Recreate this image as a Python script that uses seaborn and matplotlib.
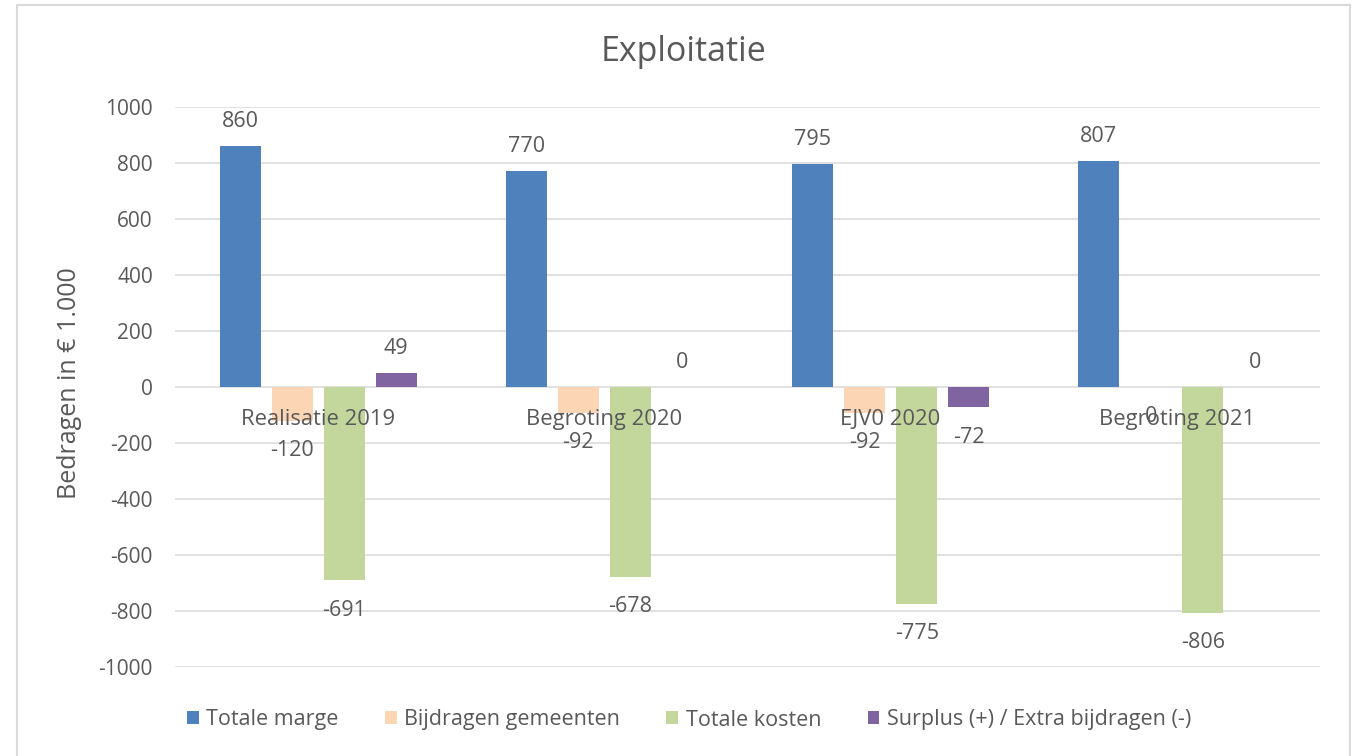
import numpy as np
import pandas as pd
import matplotlib
matplotlib.use("Agg")
import matplotlib.pyplot as plt
from matplotlib.patches import Rectangle
import seaborn as sns

categories = ["Realisatie 2019", "Begroting 2020", "EJV0 2020", "Begroting 2021"]
series_names = ["Totale marge", "Bijdragen gemeenten", "Totale kosten", "Surplus (+) / Extra bijdragen (-)"]
totale_marge = [860, 770, 795, 807]
bijdragen_gemeenten = [-120, -92, -92, -0.0]
totale_kosten = [-691, -678, -775, -806]
surplus = [49, 0, -72, 0]
colors = ["#4F81BD", "#FCD5B5", "#C3D69B", "#8064A2"]

all_series = [totale_marge, bijdragen_gemeenten, totale_kosten, surplus]

rows = []
for s, vals in zip(series_names, all_series):
    for c, v in zip(categories, vals):
        rows.append({"cat": c, "series": s, "val": v})
df = pd.DataFrame(rows)

sns.set_theme(style="white")
FONT = ["Open Sans", "DejaVu Sans"]
plt.rcParams["font.family"] = FONT
plt.rcParams["axes.unicode_minus"] = False
TXT = "#595959"
GRID = "#D9D9D9"

W, H = 1358, 756
fig = plt.figure(figsize=(W / 100, H / 100), dpi=100)
fig.patch.set_facecolor("white")
ax = fig.add_axes([175 / W, 1 - 667 / H, (1320 - 175) / W, (667 - 107) / H])

sns.barplot(data=df, x="cat", y="val", hue="series", order=categories,
            hue_order=series_names, palette=colors, saturation=1,
            width=0.727, gap=0.21, linewidth=0, errorbar=None, ax=ax)

ax.set_ylim(-1000, 1000)
ax.set_yticks(np.arange(-1000, 1001, 200))
ax.yaxis.grid(True, color=GRID, linewidth=1.1)
ax.set_axisbelow(True)
for sp in ax.spines.values():
    sp.set_visible(False)
ax.tick_params(axis="y", length=0, pad=16, labelsize=15, labelcolor=TXT)
ax.set_xticks(range(len(categories)))
ax.set_xticklabels([])
ax.tick_params(axis="x", length=0)
ax.set_xlabel("")
ax.set_ylabel("")

# category labels next to zero axis
for i, c in enumerate(categories):
    ax.annotate(c, xy=(i, 0), xytext=(0, -23.5), textcoords="offset points",
                ha="center", va="center", fontsize=15.8, color=TXT)

# data labels
for j, vals in enumerate(all_series):
    cont = ax.containers[j]
    for patch, v in zip(cont.patches, vals):
        xc = patch.get_x() + patch.get_width() / 2
        neg = np.signbit(v)
        off = -21.5 if neg else 18.0
        ax.annotate(f"{int(round(abs(v))) * (-1 if v < 0 else 1)}", xy=(xc, v),
                    xytext=(0, off), textcoords="offset points",
                    ha="center", va="center", fontsize=15.5, color=TXT)

# legend
handles, labels = ax.get_legend_handles_labels()
if ax.get_legend() is not None:
    ax.get_legend().remove()
fig.legend(handles, labels, loc="center", bbox_to_anchor=(689 / W, 1 - 720 / H),
           ncol=4, frameon=False, fontsize=15.5, labelcolor=TXT,
           handlelength=0.55, handleheight=0.55, handletextpad=0.35,
           columnspacing=2.15)

fig.text(684 / W, 1 - 52 / H, "Exploitatie", ha="center", va="center",
         fontsize=24.5, color=TXT)
fig.text(70 / W, 1 - 383 / H, "Bedragen in € 1.000", rotation=90,
         ha="center", va="center", fontsize=18, color=TXT)

fig.add_artist(Rectangle((17 / W, -0.05), (1350 - 17) / W, 1.05 - 5 / H,
                         transform=fig.transFigure, fill=False,
                         edgecolor=GRID, linewidth=1.5))

fig.savefig("out.png", dpi=100)
